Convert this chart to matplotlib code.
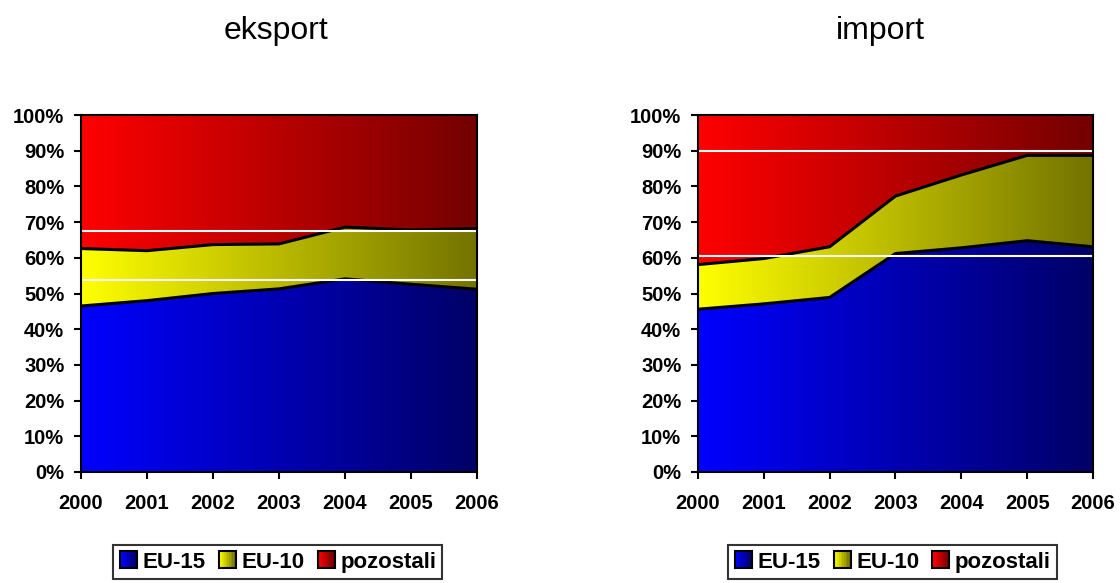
import matplotlib
matplotlib.use("Agg")
import matplotlib.pyplot as plt
import numpy as np
from matplotlib.patches import Rectangle
from matplotlib.legend_handler import HandlerBase
from matplotlib.colors import LinearSegmentedColormap

plt.rcParams['font.family'] = ['Liberation Sans', 'DejaVu Sans']

years = ["2000", "2001", "2002", "2003", "2004", "2005", "2006"]
series_names = ["EU-15", "EU-10", "pozostali"]

# eksport shares (%)
eksport_eu15 = [46.5, 48.0, 50.0, 51.3, 54.1, 52.6, 51.2]
eksport_eu10 = [16.1, 14.0, 13.7, 12.6, 14.5, 15.2, 17.0]
eksport_rest = [37.4, 38.0, 36.3, 36.1, 31.4, 32.2, 31.8]

# import shares (%)
import_eu15 = [45.6, 47.1, 48.9, 61.2, 62.8, 64.8, 63.1]
import_eu10 = [12.5, 12.7, 14.2, 16.1, 20.4, 23.9, 25.6]
import_rest = [41.9, 40.2, 36.9, 22.7, 16.8, 11.3, 11.3]

titles = ["eksport", "import"]
white_lines = [[67.5, 53.8], [90.0, 60.6]]

grad_colors = [((0, 0, 1.0), (0, 0, 0.40)),
               ((1.0, 1.0, 0), (0.45, 0.45, 0)),
               ((1.0, 0, 0), (0.45, 0, 0))]


class GradHandler(HandlerBase):
    def __init__(self, c0, c1):
        super().__init__()
        self.c0, self.c1 = np.array(c0), np.array(c1)

    def create_artists(self, legend, orig_handle, xdescent, ydescent, width,
                       height, fontsize, trans):
        s = height * 1.0
        x0 = xdescent + width - s
        y0 = -ydescent + (height - s) / 2
        arts = []
        n = 10
        for i in range(n):
            t = i / (n - 1)
            c = self.c0 * (1 - t) + self.c1 * t
            arts.append(Rectangle((x0 + i * s / n, y0), s / n + 0.1, s,
                                  facecolor=c, edgecolor='none',
                                  transform=trans))
        arts.append(Rectangle((x0, y0), s, s, facecolor='none',
                              edgecolor='black', lw=1.5, transform=trans))
        return arts


fig = plt.figure(figsize=(11.2, 5.83), dpi=100)
positions = [[0.0723, 0.1904, 0.3536, 0.6123], [0.6232, 0.1904, 0.3527, 0.6123]]
title_x = [0.246, 0.786]
legend_x = [0.248, 0.797]
data = [[eksport_eu15, eksport_eu10, eksport_rest],
        [import_eu15, import_eu10, import_rest]]

for k in range(2):
    ax = fig.add_axes(positions[k])
    x = np.arange(len(years))
    vals = np.array(data[k], dtype=float)
    cum = np.vstack([np.zeros(len(years)), np.cumsum(vals, axis=0)])
    handles = []
    for j in range(3):
        poly = ax.fill_between(x, cum[j], cum[j + 1], facecolor='none',
                               edgecolor='none', zorder=1)
        cmap = LinearSegmentedColormap.from_list("g", list(grad_colors[j]))
        grad = np.linspace(0, 1, 256).reshape(1, -1)
        im = ax.imshow(grad, cmap=cmap, aspect='auto',
                       extent=[0, len(years) - 1, 0, 100], zorder=1,
                       interpolation='bilinear')
        path = poly.get_paths()[0]
        im.set_clip_path(path, transform=ax.transData)
        handles.append(Rectangle((0, 0), 1, 1, label=series_names[j]))
    for j in (1, 2):
        ax.plot(x, cum[j], color='black', lw=2.2, zorder=3,
                solid_joinstyle='miter')
    for yv in white_lines[k]:
        ax.axhline(yv, color='white', lw=1.5, zorder=4)
    ax.set_xlim(0, len(years) - 1)
    ax.set_ylim(0, 100)
    ax.set_xticks(x)
    ax.set_xticklabels(years, fontsize=14.5, fontweight='bold')
    ax.set_yticks(np.arange(0, 101, 10))
    ax.set_yticklabels([f"{v}%" for v in range(0, 101, 10)], fontsize=14.5,
                       fontweight='bold')
    ax.tick_params(direction='out', length=5, width=1.5)
    ax.tick_params(axis='x', pad=11)
    ax.tick_params(axis='y', pad=7)
    for sp in ax.spines.values():
        sp.set_linewidth(1.5)
        sp.set_zorder(5)
    fig.text(title_x[k], 0.947, titles[k], fontsize=23, ha='center',
             va='center')
    hmap = {handles[j]: GradHandler(*grad_colors[j]) for j in range(3)}
    leg = fig.legend(handles=handles, loc='center',
                     bbox_to_anchor=(legend_x[k], 0.036),
                     ncol=3, prop={'weight': 'bold', 'size': 16},
                     handler_map=hmap, frameon=True, fancybox=False,
                     edgecolor='black', handlelength=0.8, handleheight=0.8,
                     handletextpad=0.25, columnspacing=0.55, borderpad=0.28,
                     borderaxespad=0)
    leg.get_frame().set_linewidth(1.5)

fig.savefig("out.png", dpi=100)
